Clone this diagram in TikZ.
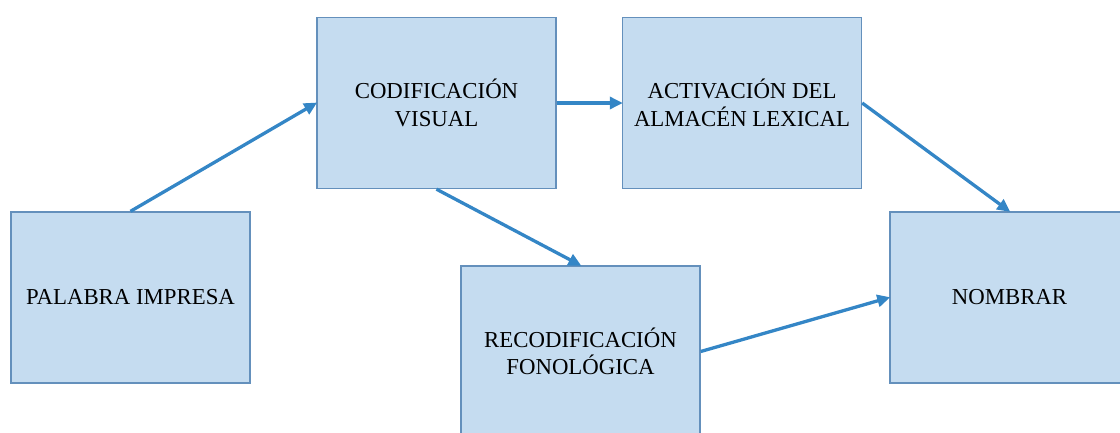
\documentclass[tikz,border=0pt]{standalone}
\usepackage{fontspec}
\setmainfont{Liberation Serif}
\usetikzlibrary{arrows.meta}
\definecolor{boxfill}{RGB}{197,220,240}
\definecolor{boxline}{RGB}{100,144,188}
\definecolor{arrowc}{RGB}{52,134,198}
\tikzset{
  stagebox/.style={draw=boxline, fill=boxfill, line width=1.4pt, minimum width=239pt, minimum height=171pt,
    align=center, inner sep=0pt, font=\fontsize{22.8}{27.5}\selectfont},
  flow/.style={draw=arrowc, line width=3.3pt, -{Triangle[length=13pt,width=12pt]}, shorten >=-1pt}
}
\begin{document}
\begin{tikzpicture}[x=1pt,y=1pt]
\useasboundingbox (0,0) rectangle (1120,-432);
\clip (0,0) rectangle (1120,-432);
\node[stagebox] (pal) at (130.5,-297.5) {PALABRA IMPRESA};
\node[stagebox] (cod) at (436.5,-103) {CODIFICACIÓN\\VISUAL};
\node[stagebox] (act) at (742,-103) {ACTIVACIÓN DEL\\ALMACÉN LEXICAL};
\node[stagebox] (rec) at (580.5,-351.5) {RECODIFICACIÓN\\FONOLÓGICA};
\node[stagebox] (nom) at (1009.5,-297.5) {NOMBRAR};
\draw[flow] (pal.north) -- (cod.west);
\draw[flow] (cod.east) -- (act.west);
\draw[flow] (act.east) -- (nom.north);
\draw[flow] (cod.south) -- (rec.north);
\draw[flow] (rec.east) -- (nom.west);
\end{tikzpicture}
\end{document}
